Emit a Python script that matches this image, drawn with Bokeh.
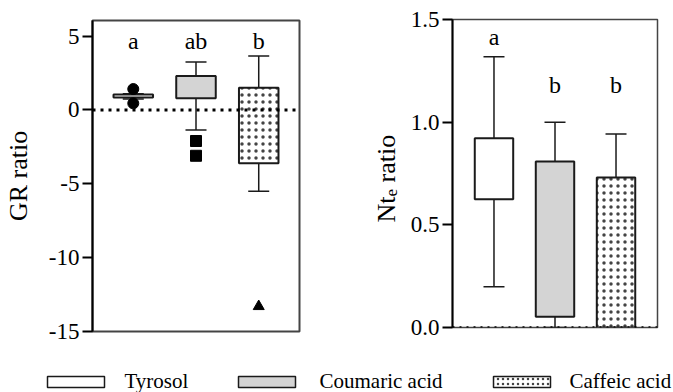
import math
from bokeh.plotting import figure
from bokeh.models import (Range1d, FactorRange, FixedTicker, ColumnDataSource, Whisker,
                          TeeHead, Span)
from bokeh.layouts import column, row
from bokeh.embed import file_html
from bokeh.resources import INLINE
from bokeh.core.properties import value

FONT_NAME = "Liberation Serif"
FONT = value(FONT_NAME)

categories = ["Tyrosol", "Coumaric acid", "Caffeic acid"]
fills = ["white", "#d4d4d4", "white"]
hatches = ["blank", "blank", "dot"]

# GR ratio panel
gr_q1 = [0.85, 0.80, -3.6]
gr_med = [0.95, 0.95, 0.68]
gr_q3 = [1.05, 2.30, 1.50]
gr_lo = [0.75, -1.35, -5.5]
gr_hi = [1.10, 3.25, 3.65]
gr_out_cat = ["Tyrosol", "Tyrosol", "Coumaric acid", "Coumaric acid", "Caffeic acid"]
gr_out_val = [1.42, 0.45, -2.1, -3.1, -13.3]
gr_out_marker = ["circle", "circle", "square", "square", "triangle"]
gr_letters = ["a", "ab", "b"]
gr_letter_y = [4.7, 4.7, 4.7]
gr_ticks = [-15, -10, -5, 0, 5]
gr_tick_labels = ["-15", "-10", "-5", "0", "5"]
gr_range = (-15, 6.06)

# Nt_e ratio panel
nt_q1 = [0.625, 0.052, 0.0]
nt_med = [0.826, 0.494, 0.175]
nt_q3 = [0.922, 0.809, 0.731]
nt_lo = [0.198, 0.0, 0.0]
nt_hi = [1.318, 1.0, 0.942]
nt_letters = ["a", "b", "b"]
nt_letter_y = [1.415, 1.18, 1.18]
nt_ticks = [0, 0.5, 1.0, 1.5]
nt_tick_labels = ["0.0", "0.5", "1.0", "1.5"]
nt_range = (0, 1.5)

BOX_W = 0.63
LINE = "#1a1a1a"
H = 351
TOP2, FRAME2, BOT2 = 19, 308, 24


def new_fig(**kw):
    p = figure(output_backend="svg", toolbar_location=None, **kw)
    p.frame_align = False
    p.xgrid.visible = False
    p.ygrid.visible = False
    p.background_fill_color = "white"
    p.border_fill_color = "white"
    return p


def style_panel(p, ticks, labels):
    ax = p.yaxis
    ax.ticker = FixedTicker(ticks=ticks)
    ax.major_label_overrides = {float(t): s for t, s in zip(ticks, labels)}
    ax.major_tick_out = 10
    ax.major_tick_in = 0
    ax.minor_tick_out = 0
    ax.minor_tick_in = 0
    ax.axis_line_width = 2
    ax.axis_line_color = "black"
    ax.major_tick_line_width = 2
    ax.major_tick_line_color = "black"
    ax.major_label_standoff = 3
    ax.major_label_text_font = FONT_NAME
    ax.major_label_text_font_size = "23px"
    ax.major_label_text_color = "black"
    p.outline_line_color = "#444444"
    p.outline_line_width = 2


def draw_boxes(p, q1, med, q3, lo, hi, letters, letter_y):
    src = ColumnDataSource(dict(cat=categories, q1=q1, med=med, q3=q3, lo=lo, hi=hi,
                                fill=fills, hatch=hatches, letters=letters, ly=letter_y))
    w = Whisker(source=src, base="cat", upper="hi", lower="lo", line_width=1.5,
                line_color=LINE, level="underlay",
                upper_head=TeeHead(size=21, line_width=1.5, line_color=LINE),
                lower_head=TeeHead(size=21, line_width=1.5, line_color=LINE))
    p.add_layout(w)
    p.vbar(x="cat", bottom="q1", top="q3", width=BOX_W, source=src,
           fill_color="fill", line_color=LINE, line_width=2,
           hatch_pattern="hatch", hatch_color="#444444", hatch_scale=7, hatch_weight=0.3)
    p.rect(x="cat", y="med", width=BOX_W, height=0, source=src,
           fill_alpha=0, line_color=LINE, line_width=1.5)
    p.text(x="cat", y="ly", text="letters", source=src, text_align="center",
           text_baseline="alphabetic", text_font=FONT, text_font_size="24px",
           text_color="black")


# ---------------- left panel ----------------
p1 = new_fig(width=309, height=H,
             x_range=FactorRange(factors=categories, range_padding=0.1),
             y_range=Range1d(*gr_range), x_axis_location=None,
             min_border_left=92, min_border_right=10, min_border_top=20, min_border_bottom=20)
style_panel(p1, gr_ticks, gr_tick_labels)
p1.yaxis.axis_label = "GR ratio"
p1.yaxis.axis_label_text_font = FONT_NAME
p1.yaxis.axis_label_text_font_size = "26px"
p1.yaxis.axis_label_text_font_style = "normal"
p1.yaxis.axis_label_text_color = "black"
p1.yaxis.axis_label_standoff = 13
p1.add_layout(Span(location=0, dimension="width", line_color="black",
                   line_width=3, line_dash="3 5"))
draw_boxes(p1, gr_q1, gr_med, gr_q3, gr_lo, gr_hi, gr_letters, gr_letter_y)
osrc = ColumnDataSource(dict(cat=gr_out_cat, val=gr_out_val, marker=gr_out_marker))
p1.scatter(x="cat", y="val", marker="marker", size=11, source=osrc,
           fill_color="black", line_color="black")

# ---------------- strip holding the right panel's axis title (with subscript) ----------
k2 = FRAME2 / (nt_range[1] - nt_range[0])
t2 = new_fig(width=95, height=H, x_range=Range1d(0, 95),
             y_range=Range1d(nt_range[0] - BOT2 / k2, nt_range[1] + TOP2 / k2),
             x_axis_location=None, y_axis_location=None, min_border=0)
t2.outline_line_color = None
title_y = nt_range[1] - (222 - TOP2) / k2          # where the title starts (bottom end)
title_src = ColumnDataSource(dict(text=["Nt", "e", "ratio"], size=["26px", "17px", "26px"],
                                  xo=[0, 5, 0], yo=[0, -26, -40]))
t2.text(x=77, y=title_y, text="text", source=title_src, angle=math.pi / 2,
        x_offset="xo", y_offset="yo", text_align="left", text_baseline="alphabetic",
        text_font=FONT, text_font_size="size", text_color="black")

# ---------------- right panel ----------------
p2 = new_fig(width=269, height=H,
             x_range=FactorRange(factors=categories, range_padding=0.12),
             y_range=Range1d(*nt_range), x_axis_location=None,
             min_border_left=48, min_border_right=16, min_border_top=TOP2,
             min_border_bottom=BOT2)
style_panel(p2, nt_ticks, nt_tick_labels)
p2.outline_line_width = 1.5
draw_boxes(p2, nt_q1, nt_med, nt_q3, nt_lo, nt_hi, nt_letters, nt_letter_y)
p2.add_layout(Span(location=0, dimension="width", line_color="black",
                   line_width=2.5, line_dash="2 5"))

# ---------------- legend strip ----------------
p3 = new_fig(width=673, height=41, x_range=Range1d(0, 673), y_range=Range1d(0, 41),
             x_axis_location=None, y_axis_location=None, min_border=0)
p3.outline_line_color = None
swatch_left = [47, 238, 493]
label_left = [124, 319, 569]
SW_W, SW_H = 57, 11
p3.rect(x=[s + SW_W / 2 for s in swatch_left], y=10.5, width=SW_W, height=SW_H,
        fill_color=fills, line_color=LINE, line_width=1.5,
        hatch_pattern=hatches, hatch_color="#444444", hatch_scale=5, hatch_weight=0.3)
p3.text(x=label_left, y=12, text=categories, text_align="left", text_baseline="alphabetic",
        text_font=FONT, text_font_size="21px", text_color="black")

layout = column(row(p1, t2, p2), p3)
open("out.html", "w").write(file_html(layout, INLINE))
